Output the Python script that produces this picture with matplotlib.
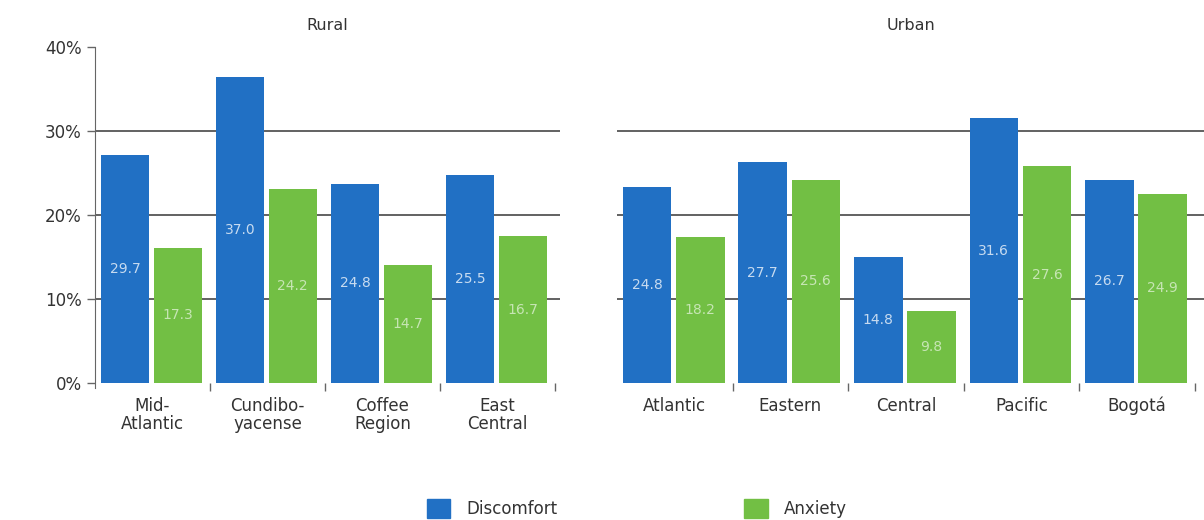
import numpy as np
import matplotlib
matplotlib.use("Agg")
import matplotlib.pyplot as plt
from matplotlib.patches import Patch

# Datos
rural_regions = ["Mid-\nAtlantic", "Cundibo-\nyacense", "Coffee\nRegion", "East\nCentral"]
rural_discomfort = [27.1, 36.4, 23.7, 24.8]      # altura de las barras
rural_anxiety = [16.1, 23.1, 14.0, 17.5]
rural_disc_labels = ["29.7", "37.0", "24.8", "25.5"]  # valores impresos
rural_anx_labels = ["17.3", "24.2", "14.7", "16.7"]

urban_regions = ["Atlantic", "Eastern", "Central", "Pacific", "Bogotá"]
urban_discomfort = [23.3, 26.3, 15.0, 31.5, 24.2]
urban_anxiety = [17.4, 24.2, 8.6, 25.8, 22.5]
urban_disc_labels = ["24.8", "27.7", "14.8", "31.6", "26.7"]
urban_anx_labels = ["18.2", "25.6", "9.8", "27.6", "24.9"]

y_ticks = [0, 10, 20, 30, 40]

BLUE = "#2170c4"
GREEN = "#72bf44"
GRID = "#555555"
TEXT = "#333333"
BAR_W = 0.42

plt.rcParams['font.family'] = ['DejaVu Sans']

fig = plt.figure(figsize=(12.04, 5.2), dpi=100)
ax_r = fig.add_axes([95 / 1204, 137 / 520, 465 / 1204, 336 / 520])
ax_u = fig.add_axes([617 / 1204, 137 / 520, 587 / 1204, 336 / 520])


def draw_panel(ax, regions, disc, anx, disc_lab, anx_lab, title, xmax):
    n = len(regions)
    idx = np.arange(n)
    xd = idx + 0.26
    xa = idx + 0.72
    for y in [10, 20, 30]:
        ax.axhline(y, color=GRID, lw=1.3, zorder=1)
    ax.bar(xd, disc, width=BAR_W, color=BLUE, zorder=2)
    ax.bar(xa, anx, width=BAR_W, color=GREEN, zorder=2)
    for x, h, t in zip(xd, disc, disc_lab):
        ax.text(x, h / 2, t, ha='center', va='center', fontsize=10,
                color='white', alpha=0.75, zorder=3)
    for x, h, t in zip(xa, anx, anx_lab):
        ax.text(x, h / 2, t, ha='center', va='center', fontsize=10,
                color='white', alpha=0.6, zorder=3)
    ax.set_xlim(0, xmax)
    ax.set_ylim(0, 40)
    for s in ['top', 'right', 'bottom']:
        ax.spines[s].set_visible(False)
    # marcas entre grupos
    ax.set_xticks(np.arange(1, n + 1))
    ax.set_xticklabels([])
    ax.tick_params(axis='x', which='major', direction='out', length=6,
                   width=1, color='#666666')
    ax.set_xticks(idx + 0.5, minor=True)
    ax.set_xticklabels(regions, minor=True, fontsize=12, color=TEXT,
                       linespacing=1.0)
    ax.tick_params(axis='x', which='minor', length=0, pad=10)
    ax.set_title(title, fontsize=11.5, color=TEXT, pad=12)


draw_panel(ax_r, rural_regions, rural_discomfort, rural_anxiety,
           rural_disc_labels, rural_anx_labels, "Rural", 465 / 115)
draw_panel(ax_u, urban_regions, urban_discomfort, urban_anxiety,
           urban_disc_labels, urban_anx_labels, "Urban", 587 / 115.6)

ax_r.set_yticks(y_ticks)
ax_r.set_yticklabels([f"{v}%" for v in y_ticks], fontsize=12, color=TEXT)
ax_r.tick_params(axis='y', direction='out', length=6, width=1, color='#666666')
ax_r.spines['left'].set_color('#666666')
ax_r.spines['left'].set_bounds(-0.6, 40)

ax_u.spines['left'].set_visible(False)
ax_u.set_yticks([])

handles = [Patch(color=BLUE, label="Discomfort"), Patch(color=GREEN, label="Anxiety")]
leg = fig.legend(handles=handles, loc='center', bbox_to_anchor=(0.529, 0.022),
                 ncol=2, frameon=False, fontsize=12, handlelength=1.4,
                 handleheight=1.4, columnspacing=11.2, handletextpad=1.0)
for t in leg.get_texts():
    t.set_color(TEXT)

fig.savefig("out.png", dpi=100)
